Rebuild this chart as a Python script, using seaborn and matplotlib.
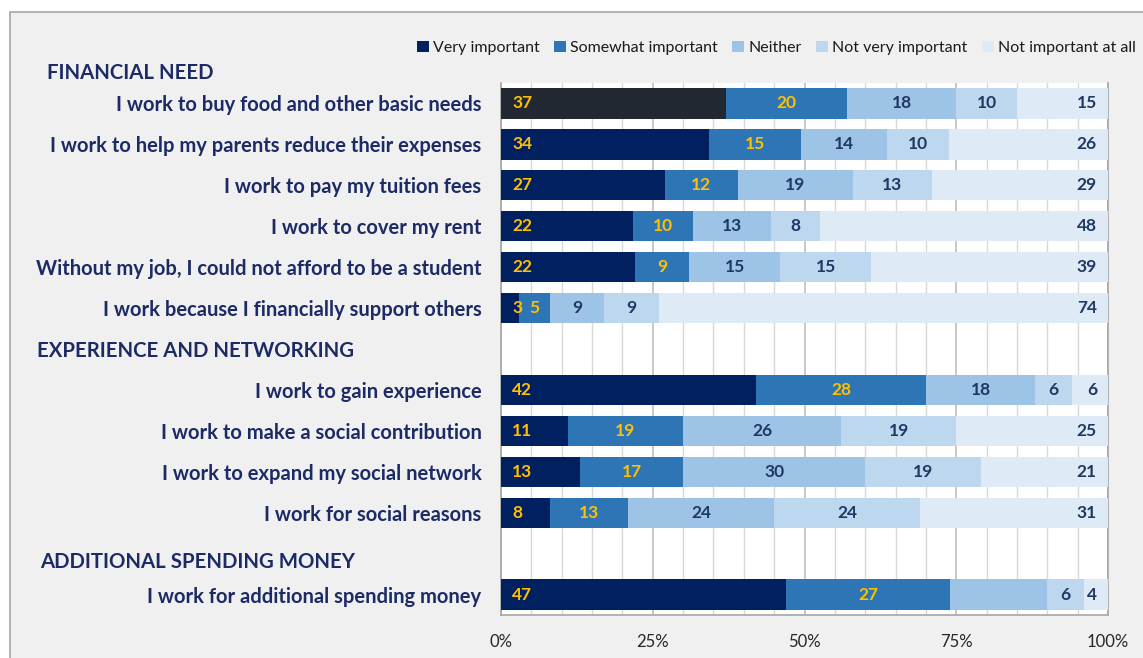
import numpy as np
import pandas as pd
import matplotlib
matplotlib.use("Agg")
import matplotlib.pyplot as plt
from matplotlib.patches import Rectangle, Patch
from matplotlib.ticker import MultipleLocator, FixedLocator
import seaborn as sns

# ---- data -------------------------------------------------------------
groups = ["FINANCIAL NEED", "EXPERIENCE AND NETWORKING", "ADDITIONAL SPENDING MONEY"]
group_sizes = [6, 4, 1]

statements = [
    "I work to buy food and other basic needs",
    "I work to help my parents reduce their expenses",
    "I work to pay my tuition fees",
    "I work to cover my rent",
    "Without my job, I could not afford to be a student",
    "I work because I financially support others",
    "I work to gain experience",
    "I work to make a social contribution",
    "I work to expand my social network",
    "I work for social reasons",
    "I work for additional spending money",
]

levels = ["Very important", "Somewhat important", "Neither",
          "Not very important", "Not important at all"]

very_important = [37, 34, 27, 22, 22, 3, 42, 11, 13, 8, 47]
somewhat_important = [20, 15, 12, 10, 9, 5, 28, 19, 17, 13, 27]
neither = [18, 14, 19, 13, 15, 9, 18, 26, 30, 24, 16]
not_very_important = [10, 10, 13, 8, 15, 9, 6, 19, 19, 24, 6]
not_important_at_all = [15, 26, 29, 48, 39, 74, 6, 25, 21, 31, 4]

# segments printed without a value label
unlabelled = {("Neither", "I work for additional spending money")}

# ---- styling ----------------------------------------------------------
colors = ["#002060", "#2e75b6", "#9dc3e6", "#bdd7ee", "#deebf7"]
highlight = "#222831"          # the selected first point
label_colors = ["#ffc000", "#ffc000", "#1f3864", "#1f3864", "#1f3864"]
text_navy = "#1c2a66"

sns.set_style("white")
plt.rcParams["font.family"] = ["Lato", "DejaVu Sans"]

W, H = 1143, 658
fig = plt.figure(figsize=(W / 100, H / 100), dpi=100, facecolor="white")

# chart frame
frame = Rectangle((10 / W, -0.05), 1.2, 1 - 12 / H + 0.05,
                  transform=fig.transFigure, facecolor="#f0f0f0",
                  edgecolor="#a6a6a6", linewidth=1.2, zorder=-10)
fig.patches.append(frame)

ax = fig.add_axes([501 / W, 1 - 615 / H, (1108 - 501) / W, (615 - 83) / H])
ax.set_zorder(1)
ax.set_facecolor("white")

# ---- table in long/wide form -----------------------------------------
df = pd.DataFrame({
    "label": statements,
    levels[0]: very_important,
    levels[1]: somewhat_important,
    levels[2]: neither,
    levels[3]: not_very_important,
    levels[4]: not_important_at_all,
})
totals = df[levels].sum(axis=1)
shares = df[levels].div(totals, axis=0) * 100
cum = shares.cumsum(axis=1)
for lv in levels:
    df["cum_" + lv] = cum[lv]
    df["share_" + lv] = shares[lv]

# category order with one blank slot before groups 2 and 3
order = []
pos = 0
for gi, n in enumerate(group_sizes):
    if gi > 0:
        order.append(" " * gi)
    order.extend(statements[pos:pos + n])
    pos += n

# stacked bars: draw cumulative totals from the outermost level inwards
for k in range(len(levels) - 1, -1, -1):
    lv = levels[k]
    if k == 0:
        pal = {s: (highlight if i == 0 else colors[0]) for i, s in enumerate(statements)}
        sns.barplot(data=df, x="cum_" + lv, y="label", order=order, hue="label",
                    palette=pal, legend=False, width=0.74, saturation=1,
                    linewidth=0, orient="h", ax=ax, zorder=3)
    else:
        sns.barplot(data=df, x="cum_" + lv, y="label", order=order,
                    color=colors[k], width=0.74, saturation=1, linewidth=0,
                    orient="h", ax=ax, zorder=3)

# value labels
for _, row in df.iterrows():
    yi = order.index(row["label"])
    start = 0.0
    for k, lv in enumerate(levels):
        share = row["share_" + lv]
        if (lv, row["label"]) not in unlabelled:
            txt = f"{int(row[lv])}"
            if k == 0:
                xy, off, ha = (0, yi), (8, 0), "left"
            elif k == len(levels) - 1:
                xy, off, ha = (100, yi), (-8, 0), "right"
            else:
                xy, off, ha = (start + share / 2, yi), (0, 0), "center"
            ax.annotate(txt, xy=xy, xytext=off, textcoords="offset points",
                        ha=ha, va="center", fontsize=12.5, fontweight="bold",
                        color=label_colors[k], zorder=5)
        start += share

# axes, ticks and grid
ax.set_xlim(0, 100)
ax.set_ylim(len(order) - 0.5, -0.5)
ax.xaxis.set_major_locator(FixedLocator([0, 25, 50, 75, 100]))
ax.xaxis.set_minor_locator(MultipleLocator(5))
ax.set_xticklabels(["0%", "25%", "50%", "75%", "100%"])
ax.grid(axis="x", which="minor", color="#d9d9d9", linewidth=1.0, zorder=0)
ax.grid(axis="x", which="major", color="#bfbfbf", linewidth=1.2, zorder=0)
ax.set_axisbelow(True)
ax.tick_params(axis="x", which="both", length=0, pad=14, labelsize=12,
               labelcolor="#262626")
ax.tick_params(axis="y", length=0, pad=14, labelsize=14.5, labelcolor=text_navy)
for lab in ax.get_yticklabels():
    lab.set_fontweight("bold")
ax.set_xlabel("")
ax.set_ylabel("")
for side in ["left", "right", "bottom"]:
    ax.spines[side].set_visible(True)
    ax.spines[side].set_color("#a6a6a6")
    ax.spines[side].set_linewidth(1.2)
ax.spines["top"].set_visible(False)

# group headings
head_px = [(47, 73), (37, 351), (40, 562)]
for name, (hx, hy) in zip(groups, head_px):
    fig.text(hx / W, 1 - hy / H, name, ha="left", va="center", fontsize=14.7,
             fontweight="bold", color=text_navy)

# legend
handles = [Patch(facecolor=c, edgecolor="none", label=l) for c, l in zip(colors, levels)]
fig.legend(handles=handles, loc="center right", bbox_to_anchor=(1150 / W, 1 - 48 / H),
           ncol=5, frameon=False, fontsize=11.5, handlelength=0.75, handleheight=0.75,
           handletextpad=0.25, columnspacing=0.9, labelcolor="#1a1a1a")

fig.savefig("out.png", dpi=100, facecolor=fig.get_facecolor())
